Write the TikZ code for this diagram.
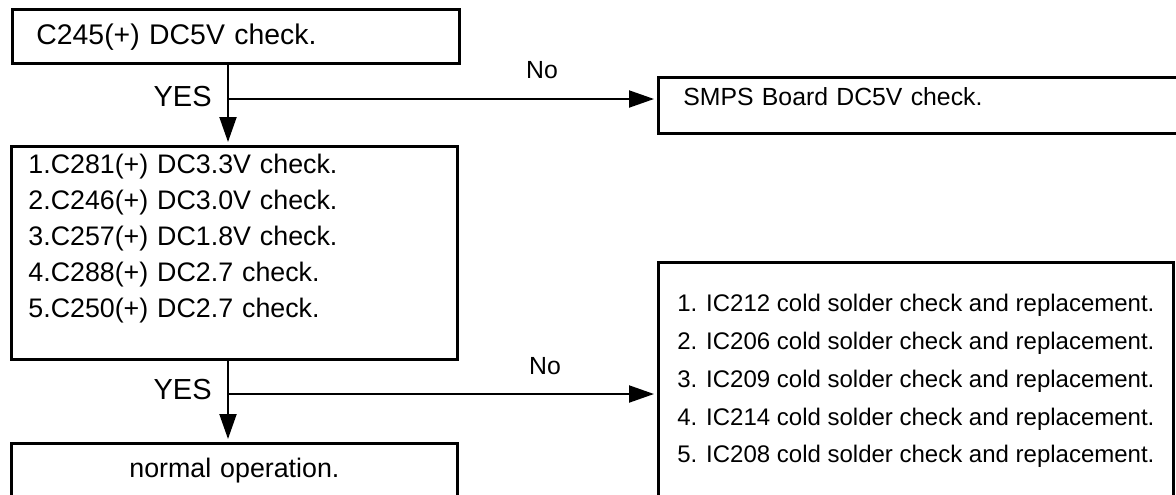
\documentclass[tikz,border=0pt]{standalone}
\usepackage{fontspec}
\setmainfont{Liberation Sans}
\usetikzlibrary{arrows.meta, positioning}

\begin{document}
\begin{tikzpicture}[x=0.5pt, y=-0.5pt,
  box/.style={rectangle, draw, line width=1.4pt, anchor=north west, inner ysep=0pt, font=\fontsize{13.4}{18}\selectfont},
  arr/.style={-{Triangle[length=12.5pt, width=8.5pt]}, line width=1pt, shorten >=1.5pt},
  lbl/.style={font=\fontsize{12.4}{14}\selectfont, inner sep=0pt},
]
\useasboundingbox[fill=white] (0,0) rectangle (1176,494);

\node[box, text width=199.5pt, inner xsep=12pt, text height=17.5pt, text depth=9.5pt, font=\fontsize{14.2}{16}\selectfont] (c245) at (11,8) {C245(+) DC5V check.};
\node[box, text width=246.5pt, inner xsep=12.5pt, text height=14pt, text depth=14pt, font=\fontsize{12.4}{16}\selectfont] (smps) at (657,76) {SMPS Board DC5V check.};
\node[box, text width=206pt, inner xsep=8.5pt, text height=13.5pt, text depth=93pt, align=left] (chk) at (10,145) {1.C281(+) DC3.3V check.\\2.C246(+) DC3.0V check.\\3.C257(+) DC1.8V check.\\4.C288(+) DC2.7 check.\\5.C250(+) DC2.7 check.};
\node[box, text width=206pt, inner xsep=8.5pt, text height=17pt, text depth=27pt, align=center] (normal) at (10,442) {normal operation.};
\node[box, minimum width=257.5pt, text height=100.25pt, text depth=34.25pt, align=left, font=\fontsize{12}{18.9}\selectfont] (icfix) at (657,261) {1. IC212 cold solder check and replacement.\\2. IC206 cold solder check and replacement.\\3. IC209 cold solder check and replacement.\\4. IC214 cold solder check and replacement.\\5. IC208 cold solder check and replacement.};

% YES / No branches
\coordinate (j1) at (228,99);
\coordinate (j2) at (228,394);
\draw[arr] (c245.south -| j1) -- (chk.north -| j1);
\draw[arr] (j1) -- (smps.west |- j1);
\draw[arr] (chk.south -| j2) -- (normal.north -| j2);
\draw[arr] (j2) -- (icfix.west |- j2);

\node[lbl, left=8pt of j1, yshift=1pt, font=\fontsize{14.5}{15}\selectfont] (yes1) {YES};
\node[lbl] (no1) at (542,70) {No};
\node[lbl, left=8pt of j2, yshift=2pt, font=\fontsize{14.5}{15}\selectfont] (yes2) {YES};
\node[lbl] (no2) at (545,366) {No};
\end{tikzpicture}
\end{document}
